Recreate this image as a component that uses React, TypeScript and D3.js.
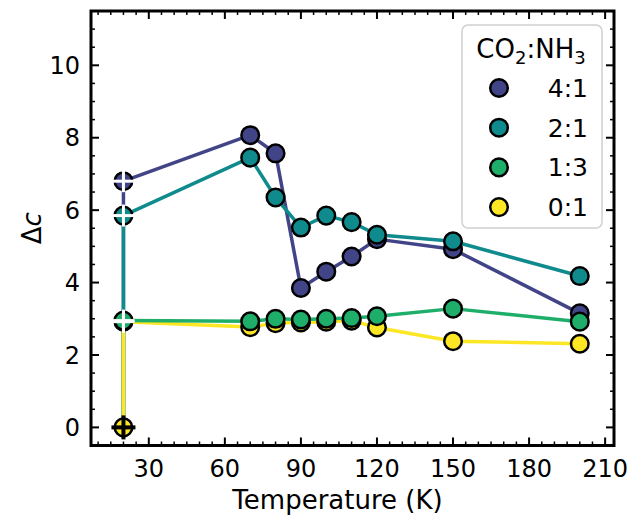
import React from "react";
import * as d3 from "d3";

const temps = [20, 20, 70, 80, 90, 100, 110, 120, 150, 200];
const ratioLabels = ["4:1", "2:1", "1:3", "0:1"];
const colors = ["#414487", "#0f8b8d", "#1fae6a", "#fde725"];
const s41 = [0, 6.8, 8.07, 7.57, 3.85, 4.3, 4.72, 5.2, 4.92, 3.15];
const s21 = [0, 5.85, 7.45, 6.35, 5.52, 5.85, 5.67, 5.32, 5.14, 4.18];
const s13 = [0, 2.95, 2.93, 3.0, 2.98, 3.0, 3.02, 3.07, 3.28, 2.92];
const s01 = [0, 2.92, 2.77, 2.88, 2.9, 2.92, 2.95, 2.76, 2.38, 2.31];
const seriesValues = [s41, s21, s13, s01];
const drawOrder = [0, 1, 3, 2];
const xTicks = [30, 60, 90, 120, 150, 180, 210];
const yTicks = [0, 2, 4, 6, 8, 10];

const W = 633, H = 519;
const L = 91, R = 614, T = 11, B = 445.5;
const FONT = "DejaVu Sans, sans-serif";

export default function App() {
  const x = d3.scaleLinear().domain([7.2, 213.5]).range([L, R]);
  const y = d3.scaleLinear().domain([-0.5, 11.5]).range([B, T]);
  const line = d3.line<number>().x((_, i) => x(temps[i + 1])).y((d) => y(d));
  const xMinor = d3.range(10, 214, 5).filter((v) => v % 30 !== 0);
  const yMinor = d3.range(-0.5, 11.6, 0.5).filter((v) => Math.abs(v % 2) > 1e-6);
  const r = 8.8;

  return (
    <svg width={W} height={H} style={{ position: "absolute", left: 0, top: 0, background: "#fff" }} fontFamily={FONT}>
      {/* vertical connectors at the first temperature */}
      {seriesValues.map((vals, si) => (
        <line key={"v" + si} x1={x(temps[0])} x2={x(temps[1])} y1={y(vals[0])} y2={y(vals[1])} stroke={colors[si]} strokeWidth={3.5} />
      ))}
      {drawOrder.map((si) => {
        const vals = seriesValues[si];
        return (
          <g key={si}>
            <path d={line(vals.slice(1)) || ""} fill="none" stroke={colors[si]} strokeWidth={3.5} strokeLinejoin="round" />
            {vals.slice(1).map((v, i) => (
              <circle key={i} cx={x(temps[i + 1])} cy={y(v)} r={r} fill={colors[si]} stroke="#000" strokeWidth={2.5} />
            ))}
          </g>
        );
      })}
      {seriesValues.map((vals, si) => (
        <g key={"p" + si}>
          <line x1={x(temps[1]) - 11} x2={x(temps[1]) + 11} y1={y(vals[1])} y2={y(vals[1])} stroke="#fff" strokeWidth={3} />
          <line x1={x(temps[1])} x2={x(temps[1])} y1={y(vals[1]) - 11} y2={y(vals[1]) + 11} stroke="#fff" strokeWidth={3} />
        </g>
      ))}
      <circle cx={x(temps[0])} cy={y(s01[0])} r={r} fill={colors[3]} stroke="#000" strokeWidth={2.5} />
      <line x1={x(temps[0]) - 12} x2={x(temps[0]) + 12} y1={y(0)} y2={y(0)} stroke="#000" strokeWidth={4} />
      <line x1={x(temps[0])} x2={x(temps[0])} y1={y(0) - 12} y2={y(0) + 12} stroke="#000" strokeWidth={4} />

      {/* ticks */}
      {xTicks.map((t) => (
        <g key={"xt" + t}>
          <line x1={x(t)} x2={x(t)} y1={B} y2={B - 8} stroke="#000" strokeWidth={2} />
          <line x1={x(t)} x2={x(t)} y1={T} y2={T + 8} stroke="#000" strokeWidth={2} />
          <text x={x(t)} y={477} textAnchor="middle" fontSize={24}>{t}</text>
        </g>
      ))}
      {xMinor.map((t) => (
        <g key={"xm" + t}>
          <line x1={x(t)} x2={x(t)} y1={B} y2={B - 4} stroke="#000" strokeWidth={1.5} />
          <line x1={x(t)} x2={x(t)} y1={T} y2={T + 4} stroke="#000" strokeWidth={1.5} />
        </g>
      ))}
      {yTicks.map((t) => (
        <g key={"yt" + t}>
          <line x1={L} x2={L + 8} y1={y(t)} y2={y(t)} stroke="#000" strokeWidth={2} />
          <line x1={R} x2={R - 8} y1={y(t)} y2={y(t)} stroke="#000" strokeWidth={2} />
          <text x={80} y={y(t)} dy="0.36em" textAnchor="end" fontSize={24}>{t}</text>
        </g>
      ))}
      {yMinor.map((t) => (
        <g key={"ym" + t}>
          <line x1={L} x2={L + 4} y1={y(t)} y2={y(t)} stroke="#000" strokeWidth={1.5} />
          <line x1={R} x2={R - 4} y1={y(t)} y2={y(t)} stroke="#000" strokeWidth={1.5} />
        </g>
      ))}
      <rect x={L} y={T} width={R - L} height={B - T} fill="none" stroke="#000" strokeWidth={3} />

      <text x={(L + R) / 2 - 15} y={509} textAnchor="middle" fontSize={26}>Temperature (K)</text>
      <text transform={`translate(41, ${(T + B) / 2}) rotate(-90)`} textAnchor="middle" fontSize={26}>
        Δ<tspan fontStyle="italic">c</tspan>
      </text>

      {/* legend */}
      <rect x={462} y={25} width={140} height={203} rx={6} fill="#fff" fillOpacity={0.8} stroke="#d0d0d0" strokeWidth={1.5} />
      <text x={531} y={58} textAnchor="middle" fontSize={26}>
        CO<tspan fontSize={18} dy={6}>2</tspan><tspan dy={-6}>:NH</tspan><tspan fontSize={18} dy={6}>3</tspan>
      </text>
      {ratioLabels.map((lab, i) => (
        <g key={lab}>
          <circle cx={499} cy={88 + i * 39.7} r={r} fill={colors[i]} stroke="#000" strokeWidth={2.5} />
          <text x={588} y={88 + i * 39.7} dy="0.36em" textAnchor="end" fontSize={25}>{lab}</text>
        </g>
      ))}
    </svg>
  );
}
